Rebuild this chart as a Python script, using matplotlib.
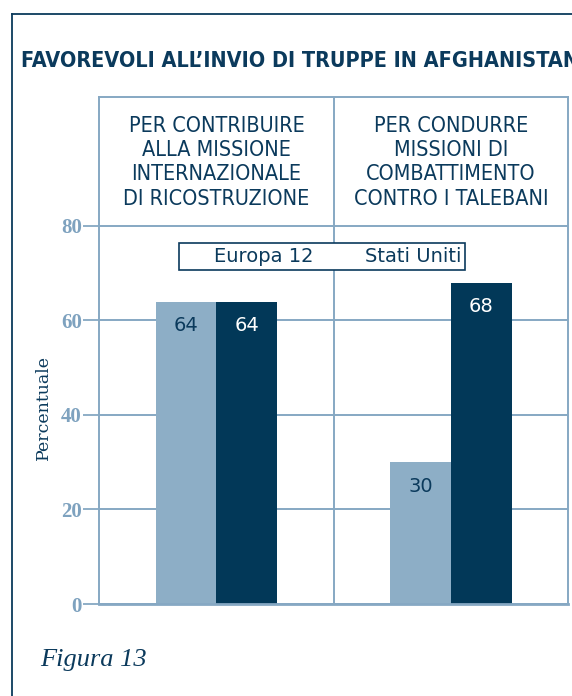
import numpy as np
import matplotlib
matplotlib.use('Agg')
import matplotlib.pyplot as plt
from matplotlib import font_manager
from matplotlib.lines import Line2D

#---------------------------------------------------------
# Dati
#---------------------------------------------------------
titolo = 'FAVOREVOLI ALL\u2019INVIO DI TRUPPE IN AFGHANISTAN'
categorie = ['PER CONTRIBUIRE\nALLA MISSIONE\nINTERNAZIONALE\nDI RICOSTRUZIONE',
             'PER CONDURRE\nMISSIONI DI\nCOMBATTIMENTO\nCONTRO I TALEBANI']
serie = ['Europa 12', 'Stati Uniti']
europa = [64, 30]
usa = [64, 68]
yticks = [0, 20, 40, 60, 80]
ylabel = 'Percentuale'
figura = 'Figura 13'

#---------------------------------------------------------
# Stile
#---------------------------------------------------------
navy = '#0b3a5c'
scuro = '#023858'
chiaro = '#8daec6'
griglia = '#86a8c3'
tick_col = '#7ea2bf'

nomi = {f.name for f in font_manager.fontManager.ttflist}
if 'Liberation Sans Narrow' in nomi:
    narrow = dict(family='Liberation Sans Narrow')
else:
    narrow = dict(family='DejaVu Sans', stretch='condensed')

W, H = 572, 696
fig = plt.figure(figsize=(W / 100, H / 100), dpi=100)
fig.patch.set_facecolor('white')

# cornice esterna (solo alto e sinistra visibili)
fig.add_artist(Line2D([11.7 / W, 1], [1 - 14 / H, 1 - 14 / H], color=navy, lw=1.3))
fig.add_artist(Line2D([11.7 / W, 11.7 / W], [0, 1 - 14 / H], color=navy, lw=1.3))

fig.text(21 / W, 1 - 61 / H, titolo, fontsize=15.5, fontweight='bold',
         color=navy, ha='left', va='center', **narrow)

ax = fig.add_axes([99.3 / W, 1 - 604 / H, (568 - 99.3) / W, (604 - 96.7) / H])

x = np.arange(len(categorie)) + 0.5
w = 0.26
b1 = ax.bar(x - w / 2, europa, w, color=chiaro, label=serie[0], zorder=2)
b2 = ax.bar(x + w / 2, usa, w, color=scuro, label=serie[1], zorder=2)

for rect, v in zip(b1, europa):
    ax.annotate(str(v), (rect.get_x() + rect.get_width() / 2, v),
                xytext=(0, -17.5), textcoords='offset points',
                ha='center', va='center', fontsize=14, color=navy, zorder=3)
for rect, v in zip(b2, usa):
    ax.annotate(str(v), (rect.get_x() + rect.get_width() / 2, v),
                xytext=(0, -17.5), textcoords='offset points',
                ha='center', va='center', fontsize=14, color='white', zorder=3)

for xi, lab in zip(x, categorie):
    ax.text(xi, 93.5, lab, ha='center', va='center', fontsize=15.5,
            color=navy, linespacing=1.27, **narrow)

ax.set_xlim(0, 2)
ax.set_ylim(0, 107.35)
ax.set_yticks(yticks)
ax.set_yticklabels([str(t) for t in yticks], fontfamily='Liberation Serif',
                   fontsize=15, fontweight='bold', color=tick_col)
ax.set_xticks([1])
ax.set_xticklabels([])
ax.tick_params(axis='x', length=0)
ax.tick_params(axis='y', length=11.5, width=1.3, color=griglia, pad=1)
ax.grid(True, color=griglia, lw=1.4)
ax.set_axisbelow(True)
for s in ax.spines.values():
    s.set_color(griglia)
    s.set_linewidth(1.4)
ax.spines['bottom'].set_linewidth(2)

fig.text(43 / W, 1 - 407 / H, ylabel, rotation=90, fontfamily='DejaVu Serif',
         fontsize=12.5, color=navy, ha='center', va='center')

leg = ax.legend(loc='center', bbox_to_anchor=(322 / W, 1 - 256.5 / H),
                bbox_transform=fig.transFigure, ncol=2, fontsize=14,
                handlelength=1.2, handletextpad=0.4, columnspacing=1.03,
                borderpad=0.22, fancybox=False, framealpha=1,
                edgecolor=navy)
leg.get_frame().set_linewidth(1.2)
for h in leg.legend_handles:
    h.set_visible(False)
for t in leg.get_texts():
    t.set_color(navy)

fig.text(40 / W, 1 - 660 / H, figura, fontfamily='Liberation Serif',
         style='italic', fontsize=19, color=navy, ha='left', va='center')

plt.savefig('out.png', dpi=100)
